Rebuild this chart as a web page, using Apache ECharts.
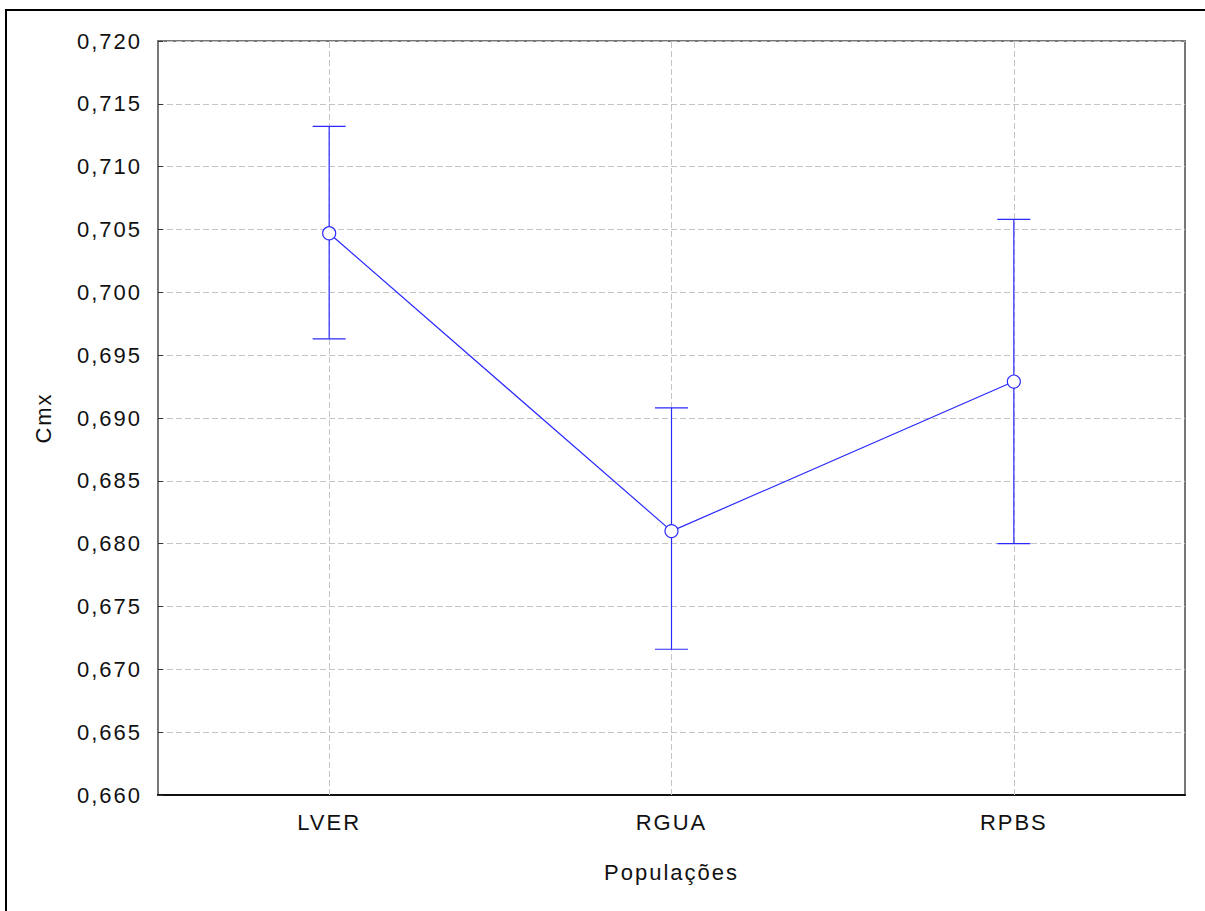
<!DOCTYPE html>
<html>
<head>
<meta charset="utf-8">
<script src="https://cdn.jsdelivr.net/npm/echarts@6/dist/echarts.min.js"></script>
<style>
html,body{margin:0;padding:0;background:#fff;}
#chart{width:1205px;height:911px;}
#chart svg text{letter-spacing:2px;}
</style>
</head>
<body>
<div id="chart"></div>
<script>
// Data
var categories = ['LVER', 'RGUA', 'RPBS'];
var means = [0.7047, 0.6810, 0.6929];
var lowerBounds = [0.6963, 0.6716, 0.6800];
var upperBounds = [0.7132, 0.6908, 0.7058];
var yMin = 0.660, yMax = 0.720, yStep = 0.005;
var xTitle = 'Populações';
var yTitle = 'Cmx';

var blue = '#2a2aff';
var gridGray = '#c4c4c4';
var font = 'Liberation Sans, Arial, sans-serif';

var errData = categories.map(function (c, i) { return [i, lowerBounds[i], upperBounds[i]]; });

var chart = echarts.init(document.getElementById('chart'), null, { renderer: 'svg' });
chart.setOption({
  backgroundColor: '#fff',
  animation: false,
  graphic: [{
    type: 'rect',
    shape: { x: 6, y: 10, width: 1400, height: 1200 },
    style: { fill: 'none', stroke: '#000', lineWidth: 2 },
    silent: true, z: -10
  }],
  grid: {
    left: 158, right: 20, top: 41, bottom: 116,
    show: true, borderColor: '#777', borderWidth: 2, backgroundColor: 'transparent'
  },
  xAxis: {
    type: 'category',
    data: categories,
    boundaryGap: true,
    name: xTitle,
    nameLocation: 'middle',
    nameGap: 66,
    nameTextStyle: { fontFamily: font, fontSize: 22, color: '#111' },
    axisLine: { show: true, lineStyle: { color: '#111', width: 2 } },
    axisTick: { show: true, inside: true, length: 6, alignWithLabel: true, lineStyle: { color: '#333', width: 1 } },
    axisLabel: { fontFamily: font, fontSize: 22, color: '#111', margin: 16 },
    splitLine: { show: false }
  },
  yAxis: {
    type: 'value',
    min: yMin, max: yMax, interval: yStep,
    name: yTitle,
    nameLocation: 'middle',
    nameRotate: 90,
    nameGap: 104,
    nameTextStyle: { fontFamily: font, fontSize: 22, color: '#111' },
    axisLine: { show: false },
    axisTick: { show: true, inside: true, length: 5, lineStyle: { color: '#333', width: 1 } },
    axisLabel: {
      fontFamily: font, fontSize: 22, color: '#111', margin: 16,
      formatter: function (v) { return v.toFixed(3).replace('.', ','); }
    },
    splitLine: { show: true, lineStyle: { color: gridGray, type: [6, 3], width: 1 } }
  },
  series: [
    {
      type: 'line',
      data: [],
      z: 1,
      silent: true,
      markLine: {
        z: 1,
        silent: true,
        symbol: 'none',
        label: { show: false },
        lineStyle: { color: gridGray, type: [6, 3], width: 1 },
        emphasis: { disabled: true },
        data: categories.map(function (c) { return { xAxis: c }; })
      }
    },
    {
      type: 'custom',
      data: errData,
      z: 6,
      renderItem: function (params, api) {
        var x = api.value(0);
        var lo = api.coord([x, api.value(1)]);
        var hi = api.coord([x, api.value(2)]);
        var hw = 16.5;
        var st = { stroke: blue, lineWidth: 1.2 };
        return {
          type: 'group',
          children: [
            { type: 'line', shape: { x1: lo[0], y1: lo[1], x2: hi[0], y2: hi[1] }, style: st },
            { type: 'line', shape: { x1: lo[0] - hw, y1: lo[1], x2: lo[0] + hw, y2: lo[1] }, style: st },
            { type: 'line', shape: { x1: hi[0] - hw, y1: hi[1], x2: hi[0] + hw, y2: hi[1] }, style: st }
          ]
        };
      }
    },
    {
      type: 'line',
      data: means,
      z: 7,
      symbol: 'circle',
      symbolSize: 13,
      lineStyle: { color: blue, width: 1.2 },
      itemStyle: { color: '#fff', borderColor: blue, borderWidth: 1.2 }
    }
  ]
});
</script>
</body>
</html>
